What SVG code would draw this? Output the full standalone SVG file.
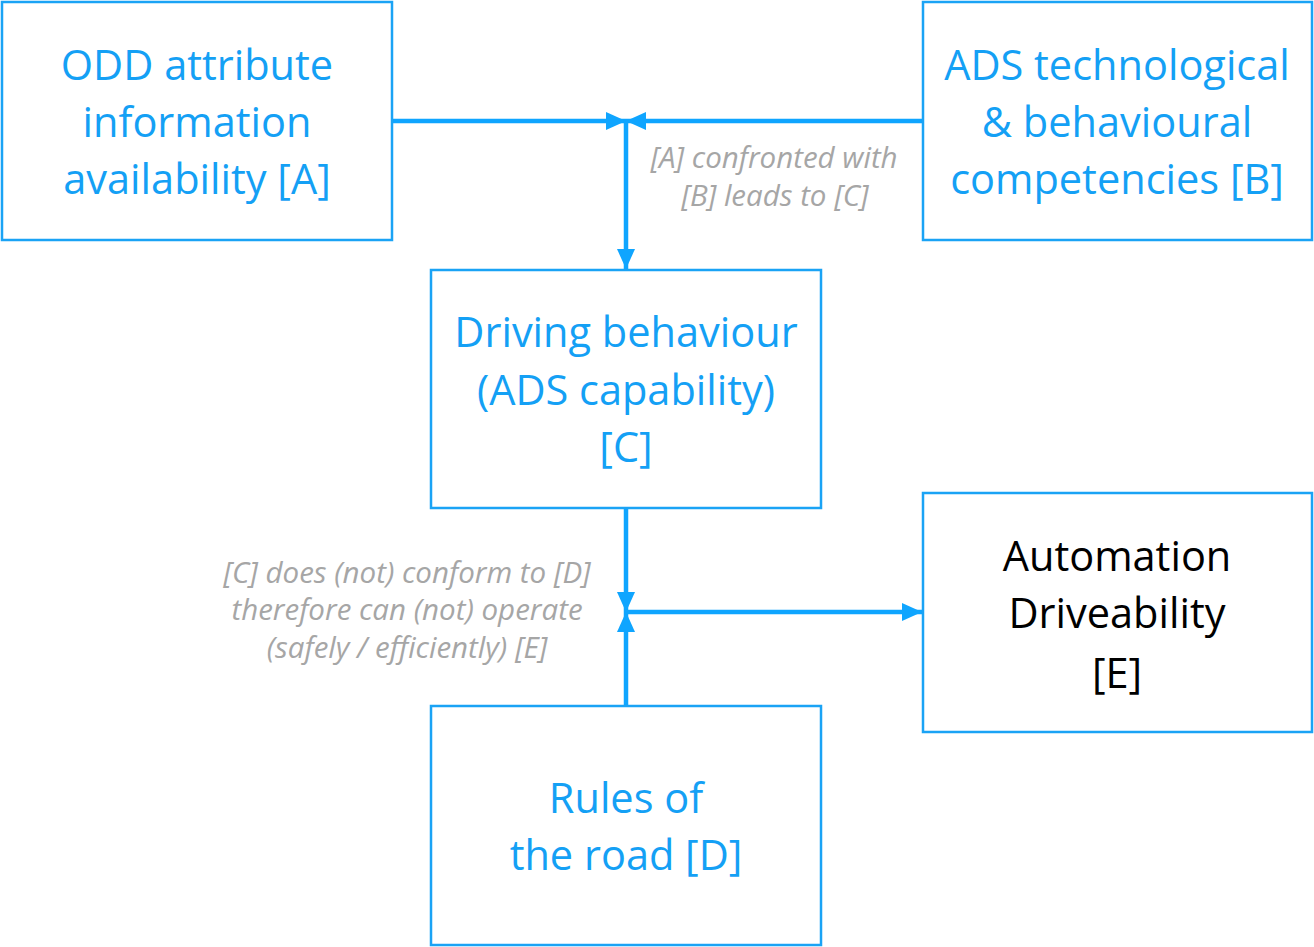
<svg xmlns="http://www.w3.org/2000/svg" width="1314" height="947" viewBox="0 0 1314 947">
<style>
.box{fill:#fff;stroke:#1aa3f5;stroke-width:2.5}
.t{font-family:"Open Sans",sans-serif;font-size:41.5px;fill:#14a0f5;text-anchor:middle}
.k{fill:#000}
.l{font-family:"Open Sans",sans-serif;font-size:29.5px;font-style:italic;fill:#a6a6a6;text-anchor:middle}
.c{stroke:#0fa5ff;stroke-width:4.5;fill:none}
</style>
<defs>
<marker id="ah" viewBox="0 0 20 18" refX="20" refY="9" markerWidth="20" markerHeight="18" markerUnits="userSpaceOnUse" orient="auto">
<path d="M0,0 L20,9 L0,18 Z" fill="#0fa5ff"/>
</marker>
</defs>
<rect width="1314" height="947" fill="#fff"/>
<g id="connectors">
<path class="c" d="M392,121 H626" marker-end="url(#ah)"/>
<path class="c" d="M923,121 H626" marker-end="url(#ah)"/>
<path class="c" d="M626,121 V269" marker-end="url(#ah)"/>
<path class="c" d="M626,509 V612" marker-end="url(#ah)"/>
<path class="c" d="M626,706 V612" marker-end="url(#ah)"/>
<path class="c" d="M626,612 H922" marker-end="url(#ah)"/>
<text class="l" x="774" y="168">[A] confronted with</text>
<text class="l" x="775" y="206">[B] leads to [C]</text>
<text class="l" x="407" y="583">[C] does (not) conform to [D]</text>
<text class="l" x="407" y="620">therefore can (not) operate</text>
<text class="l" x="407" y="658">(safely / efficiently) [E]</text>
</g>
<g id="nodeA">
<rect class="box" x="2" y="2" width="390" height="238"/>
<text class="t" x="197" y="80">ODD attribute</text>
<text class="t" x="197" y="137">information</text>
<text class="t" x="197" y="194">availability [A]</text>
</g>
<g id="nodeB">
<rect class="box" x="923" y="2" width="389" height="238"/>
<text class="t" x="1117" y="80">ADS technological</text>
<text class="t" x="1117" y="137">&amp; behavioural</text>
<text class="t" x="1117" y="194">competencies [B]</text>
</g>
<g id="nodeC">
<rect class="box" x="431" y="270" width="390" height="238"/>
<text class="t" x="626" y="347">Driving behaviour</text>
<text class="t" x="626" y="405">(ADS capability)</text>
<text class="t" x="626" y="462">[C]</text>
</g>
<g id="nodeD">
<rect class="box" x="431" y="706" width="390" height="239"/>
<text class="t" x="626" y="813">Rules of</text>
<text class="t" x="626" y="870">the road [D]</text>
</g>
<g id="nodeE">
<rect class="box" x="923" y="493" width="389" height="239"/>
<text class="t k" x="1117" y="571">Automation</text>
<text class="t k" x="1117" y="628">Driveability</text>
<text class="t k" x="1117" y="688">[E]</text>
</g>
</svg>
